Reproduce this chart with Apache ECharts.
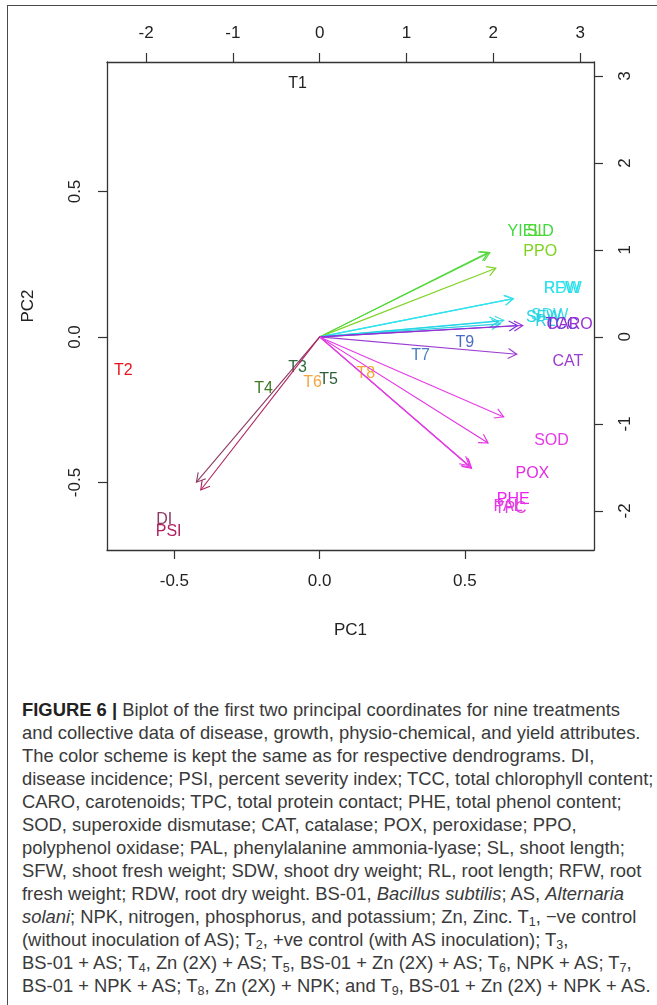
<!DOCTYPE html>
<html>
<head>
<meta charset="utf-8">
<script src="https://cdn.jsdelivr.net/npm/echarts@6/dist/echarts.min.js"></script>
<style>
  html, body { margin: 0; padding: 0; background: #fff; width: 657px; height: 1005px; overflow: hidden; }
  .frame { position: absolute; left: 7px; top: 5px; width: 800px; height: 1100px;
           border-left: 1.5px solid #4a4a4a; border-top: 1.5px solid #4a4a4a; }
  #chart { position: absolute; left: 0; top: 0; width: 657px; height: 660px; }
  .caption { position: absolute; left: 22px; top: 698px; font-family: 'Liberation Sans', Arial, sans-serif;
             font-size: 18.4px; line-height: 23px; color: #3a3a3a; white-space: nowrap; }
  .caption b { color: #222; }
  .caption sub { font-size: 12.5px; line-height: 0; vertical-align: -3px; }
</style>
</head>
<body>
<div class="frame"></div>
<div id="chart"></div>
<div class="caption">
  <b>FIGURE 6 |</b> Biplot of the first two principal coordinates for nine treatments<br>
  and collective data of disease, growth, physio-chemical, and yield attributes.<br>
  The color scheme is kept the same as for respective dendrograms. DI,<br>
  disease incidence; PSI, percent severity index; TCC, total chlorophyll content;<br>
  CARO, carotenoids; TPC, total protein contact; PHE, total phenol content;<br>
  SOD, superoxide dismutase; CAT, catalase; POX, peroxidase; PPO,<br>
  polyphenol oxidase; PAL, phenylalanine ammonia-lyase; SL, shoot length;<br>
  SFW, shoot fresh weight; SDW, shoot dry weight; RL, root length; RFW, root<br>
  fresh weight; RDW, root dry weight. BS-01, <i>Bacillus subtilis</i>; AS, <i>Alternaria</i><br>
  <i>solani</i>; NPK, nitrogen, phosphorus, and potassium; Zn, Zinc. T<sub>1</sub>, &minus;ve control<br>
  (without inoculation of AS); T<sub>2</sub>, +ve control (with AS inoculation); T<sub>3</sub>,<br>
  BS-01 + AS; T<sub>4</sub>, Zn (2X) + AS; T<sub>5</sub>, BS-01 + Zn (2X) + AS; T<sub>6</sub>, NPK + AS; T<sub>7</sub>,<br>
  BS-01 + NPK + AS; T<sub>8</sub>, Zn (2X) + NPK; and T<sub>9</sub>, BS-01 + Zn (2X) + NPK + AS.
</div>
<script>
// treatment scores (PC1 / PC2, bottom + left axes)
const treatNames = ['T1', 'T2', 'T3', 'T4', 'T5', 'T6', 'T7', 'T8', 'T9'];
const treatPC1 = [-0.076, -0.676, -0.076, -0.193, 0.031, -0.024, 0.348, 0.159, 0.50];
const treatPC2 = [0.872, -0.114, -0.104, -0.179, -0.145, -0.155, -0.063, -0.125, -0.018];

// variable loadings (top + right axes): label positions and arrow tips
const varNames = ['YIELD', 'SL', 'PPO', 'RFW', 'RDW', 'SDW', 'SFW', 'RL', 'TCC', 'CARO', 'CAT',
                  'SOD', 'POX', 'PHE', 'PAL', 'TPC', 'DI', 'PSI'];
const varLabelX = [2.43, 2.50, 2.54, 2.79, 2.80, 2.65, 2.58, 2.60, 2.79, 2.88, 2.86,
                   2.67, 2.45, 2.23, 2.17, 2.20, -1.79, -1.74];
const varLabelY = [1.21, 1.21, 0.98, 0.55, 0.55, 0.24, 0.22, 0.18, 0.14, 0.14, -0.28,
                   -1.19, -1.57, -1.87, -1.95, -1.97, -2.10, -2.24];
const arrowX = [1.94, 1.96, 2.03, 2.23, 2.23, 2.12, 2.06, 2.08, 2.28, 2.34, 2.27,
                2.12, 1.94, 1.75, 1.72, 1.74, -1.42, -1.37];
const arrowY = [0.97, 0.97, 0.79, 0.44, 0.44, 0.19, 0.18, 0.15, 0.13, 0.13, -0.20,
                -0.92, -1.22, -1.51, -1.48, -1.50, -1.67, -1.76];

// axis ticks
const pcTicks = [-0.5, 0, 0.5];
const loadTicks = [-2, -1, 0, 1, 2, 3];
const pcMin = -0.732, pcMax = 0.945;
const loadMin = -2.45, loadMax = 3.16;

const colors = {
  T1: '#222222', T2: '#e8141a', T3: '#2f6b3c', T4: '#3f7a22', T5: '#2e5e3a', T6: '#f5a540',
  T7: '#4a7dc8', T8: '#f2a830', T9: '#4a6bc4',
  YIELD: '#3fd83f', SL: '#55d630', PPO: '#7ed321',
  RFW: '#22dde8', RDW: '#33e3ee', SDW: '#3fdbe8', SFW: '#22d6e6', RL: '#2fd0e0',
  TCC: '#6a35d8', CARO: '#9a30d4', CAT: '#9a3bd2',
  SOD: '#e63be6', POX: '#e32ee3', PHE: '#ee22ee', PAL: '#e63be6', TPC: '#e040e0',
  DI: '#8b3a62', PSI: '#b02060'
};

const txtFont = '16px "Liberation Sans", Arial, sans-serif';
const axisColor = '#333';

const textItem = (names) => (params, api) => {
  const p = api.coord([api.value(0), api.value(1)]);
  const name = names[params.dataIndex];
  return {
    type: 'text', x: p[0], y: p[1],
    style: { text: name, fill: colors[name], font: txtFont, align: 'center', verticalAlign: 'middle' }
  };
};

const arrowItem = (params, api) => {
  const o = api.coord([0, 0]);
  const t = api.coord([api.value(0), api.value(1)]);
  const ang = Math.atan2(t[1] - o[1], t[0] - o[0]);
  const len = 10, a = Math.PI / 6;
  const h1 = [t[0] - len * Math.cos(ang - a), t[1] - len * Math.sin(ang - a)];
  const h2 = [t[0] - len * Math.cos(ang + a), t[1] - len * Math.sin(ang + a)];
  const style = { stroke: colors[varNames[params.dataIndex]], lineWidth: 1.1, fill: null };
  return {
    type: 'group',
    children: [
      { type: 'line', shape: { x1: o[0], y1: o[1], x2: t[0], y2: t[1] }, style },
      { type: 'polyline', shape: { points: [h1, t, h2] }, style }
    ]
  };
};

const baseAxis = {
  type: 'value',
  splitLine: { show: false },
  axisLine: { show: true, onZero: false, lineStyle: { color: axisColor, width: 1.3 } },
  axisTick: { show: true, length: 9, lineStyle: { color: axisColor, width: 1.2 } },
  axisLabel: { fontSize: 17, color: '#222', fontFamily: 'Liberation Sans' },
  nameTextStyle: { fontSize: 17, color: '#222', fontFamily: 'Liberation Sans' }
};

const mk = (extra, ticks, labelExtra) => Object.assign({}, baseAxis, extra, {
  axisTick: Object.assign({}, baseAxis.axisTick, { customValues: ticks }),
  axisLabel: Object.assign({}, baseAxis.axisLabel, { customValues: ticks }, labelExtra)
});

const chart = echarts.init(document.getElementById('chart'));
chart.setOption({
  animation: false,
  grid: { left: 107, top: 62, width: 487, height: 488, show: false },
  xAxis: [
    mk({ position: 'bottom', min: pcMin, max: pcMax, name: 'PC1', nameLocation: 'middle', nameGap: 72 },
       pcTicks, { margin: 23, formatter: v => v.toFixed(1) }),
    mk({ position: 'top', min: loadMin, max: loadMax }, loadTicks, { margin: 20, formatter: v => String(v) })
  ],
  yAxis: [
    mk({ position: 'left', min: pcMin, max: pcMax, name: 'PC2', nameLocation: 'middle', nameGap: 70 },
       pcTicks, { margin: 23, rotate: 90, formatter: v => v.toFixed(1) }),
    mk({ position: 'right', min: loadMin, max: loadMax }, loadTicks, { margin: 23, rotate: 90, formatter: v => String(v) })
  ],
  series: [
    {
      type: 'custom', xAxisIndex: 0, yAxisIndex: 0,
      data: treatNames.map((n, i) => [treatPC1[i], treatPC2[i]]),
      renderItem: textItem(treatNames)
    },
    {
      type: 'custom', xAxisIndex: 1, yAxisIndex: 1,
      data: varNames.map((n, i) => [arrowX[i], arrowY[i]]),
      renderItem: arrowItem
    },
    {
      type: 'custom', xAxisIndex: 1, yAxisIndex: 1,
      data: varNames.map((n, i) => [varLabelX[i], varLabelY[i]]),
      renderItem: textItem(varNames)
    }
  ]
});
</script>
</body>
</html>
